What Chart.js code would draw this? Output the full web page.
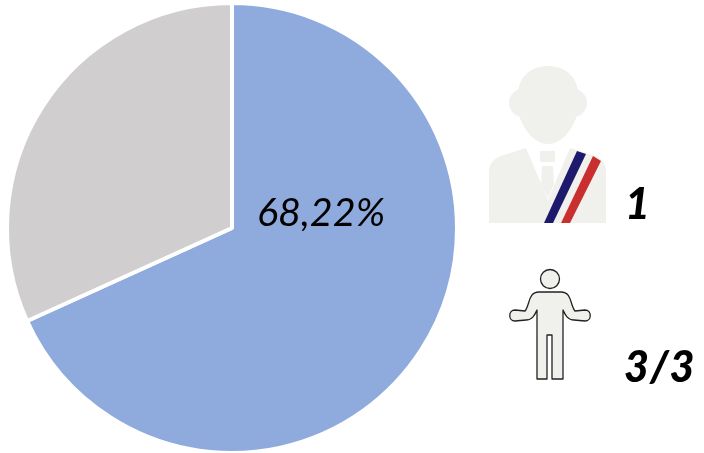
<!DOCTYPE html>
<html>
<head>
<meta charset="utf-8">
<script src="https://cdn.jsdelivr.net/npm/chart.js@4"></script>
<style>
    html, body { margin: 0; padding: 0; background: #fff; }
    #wrap { position: relative; width: 704px; height: 453px; overflow: hidden; }
    canvas { position: absolute; left: 0; top: 0; }
    svg.icon { position: absolute; left: 0; top: 0; }
    .num { position: absolute; font: italic 900 43px Lato, "Open Sans", sans-serif; color: #000; line-height: 1; }
</style>
</head>
<body>
<div id="wrap">
    <canvas id="camembert" width="704" height="460"></canvas>
    <svg class="icon" width="704" height="453" viewBox="0 0 704 453">
        <!-- elu -->
        <g fill="#f0f1ec">
            <circle cx="523" cy="103" r="14"/>
            <circle cx="573" cy="103" r="14"/>
            <path d="M517 96 C519 74 533 66 548 66 C563 66 577 74 579 96 C581 120 565 144 548 144 C531 144 515 120 517 96 Z"/>
            <path d="M489 223 V172 C489 163 494 159 501 156 L526 148 L548 200 L570 148 L595 156 C602 159 606 163 606 172 V223 Z"/>
            <rect x="540" y="151" width="15" height="11"/>
            <path d="M542 166 H553 L554 184 L548 198 L541 184 Z"/>
        </g>
        <path d="M544 223 L577 151 L586 154 L553 223 Z" fill="#1d1a6d"/>
        <path d="M561 223 L593 156 L601 161 L570 223 Z" fill="#c92f2f"/>
        <!-- personne -->
        <g fill="#f0f1ec" stroke="#222" stroke-width="1.3" stroke-linejoin="round">
            <circle cx="550" cy="279" r="9.5"/>
            <path d="M537 379 V310 C535 314 533 320 526 320 L515 321 C508 321 508 310 515 310 L525 311 C530 305 528 292 539 292 H561 C572 292 570 305 575 311 L585 310 C592 310 592 321 585 321 L574 320 C567 320 565 314 563 310 V379 H552 V335 H547 V379 Z"/>
        </g>
    </svg>
    <div class="num" id="nbElus" style="left:625px;top:181px"></div>
    <div class="num" id="nbPersonnes" style="left:624px;top:344px;letter-spacing:1px"></div>
</div>
<script>
const categories = ['Votants', 'Abstention']
const valeurs = [68.22, 31.78]
const couleurs = ['#8faadc', '#d0cece']
const nbElus = '1'
const nbPersonnes = '3/3'

document.getElementById('nbElus').textContent = nbElus
document.getElementById('nbPersonnes').textContent = nbPersonnes

// pourcentage ecrit a cote du centre du camembert
const labelPourcentage = {
    id: 'labelPourcentage',
    afterDatasetsDraw(chart) {
        const arc = chart.getDatasetMeta(0).data[0]
        const ctx = chart.ctx
        ctx.save()
        ctx.font = 'italic 400 39.5px Lato, "Open Sans", sans-serif'
        ctx.fillStyle = '#000'
        ctx.textAlign = 'center'
        ctx.textBaseline = 'middle'
        ctx.fillText(valeurs[0].toFixed(2).replace('.', ',') + '%', arc.x + 89, arc.y - 15)
        ctx.restore()
    }
}

new Chart(document.getElementById('camembert'), {
    type: 'pie',
    data: {
        labels: categories,
        datasets: [{
            data: valeurs,
            backgroundColor: couleurs,
            borderColor: '#fff',
            borderWidth: 4
        }]
    },
    options: {
        responsive: false,
        animation: false,
        layout: { padding: { left: 5, top: 1, right: 245, bottom: 5 } },
        plugins: { legend: { display: false }, tooltip: { enabled: false } }
    },
    plugins: [labelPourcentage]
})
</script>
</body>
</html>
